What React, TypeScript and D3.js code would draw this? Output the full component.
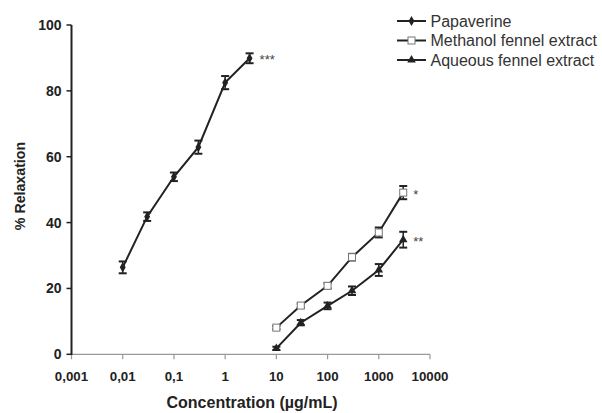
import { useEffect, useRef } from "react";
import * as d3 from "d3";

// concentrations (µg/mL)
const papaverineX = [0.01, 0.03, 0.1, 0.3, 1, 3];
const papaverineY = [26.4, 41.8, 53.9, 62.9, 82.5, 89.9];
const papaverineErr = [1.8, 1.3, 1.3, 2, 2, 1.5];

const extractX = [10, 30, 100, 300, 1000, 3000];
const methanolY = [8.1, 14.8, 20.8, 29.5, 37, 49.1];
const methanolErr = [0.5, 0.6, 0.8, 1, 1.5, 2];
const aqueousY = [1.8, 9.6, 14.7, 19.3, 25.6, 34.8];
const aqueousErr = [0.5, 0.8, 1, 1.3, 1.8, 2.4];

const xTicks = [0.001, 0.01, 0.1, 1, 10, 100, 1000, 10000];
const xTickLabels = ["0,001", "0,01", "0,1", "1", "10", "100", "1000", "10000"];
const yTicks = [0, 20, 40, 60, 80, 100];

const legendLabels = ["Papaverine", "Methanol fennel extract", "Aqueous fennel extract"];
const signif = ["***", "*", "**"];

export default function App() {
  const svgRef = useRef<SVGSVGElement>(null);

  useEffect(() => {
    if (!svgRef.current) return;
    const svg = d3.select(svgRef.current);
    svg.selectAll("*").remove();

    const x = d3.scaleLog().domain([0.001, 10000]).range([71.5, 430]);
    const y = d3.scaleLinear().domain([0, 100]).range([354.3, 25]);
    const dark = "#222";
    const font = "'Liberation Sans', Arial, sans-serif";

    // x axis (gray)
    const xa = svg.append("g").attr("transform", `translate(0,${y(0)})`);
    xa.append("line").attr("x1", x(0.001)).attr("x2", x(10000)).attr("stroke", "#999").attr("stroke-width", 1.2);
    xa.selectAll("line.t").data(xTicks).join("line").attr("class", "t")
      .attr("x1", (d) => x(d)).attr("x2", (d) => x(d)).attr("y1", 0).attr("y2", 5)
      .attr("stroke", "#999").attr("stroke-width", 1.2);
    xa.selectAll("text").data(xTicks).join("text")
      .attr("x", (d) => x(d)).attr("y", 26.5).attr("text-anchor", "middle")
      .attr("font-family", font).attr("font-weight", "bold").attr("font-size", 13.3).attr("fill", dark)
      .text((_, i) => xTickLabels[i]);

    // y axis
    const ya = svg.append("g").attr("transform", `translate(${x(0.001)},0)`);
    ya.append("line").attr("y1", y(0) + 0.6).attr("y2", y(100)).attr("stroke", dark).attr("stroke-width", 2);
    ya.selectAll("line.t").data(yTicks).join("line").attr("class", "t")
      .attr("x1", -5).attr("x2", 0).attr("y1", (d) => y(d)).attr("y2", (d) => y(d))
      .attr("stroke", dark).attr("stroke-width", 1.5);
    ya.selectAll("text").data(yTicks).join("text")
      .attr("x", -10).attr("y", (d) => y(d) + 5).attr("text-anchor", "end")
      .attr("font-family", font).attr("font-weight", "bold").attr("font-size", 14).attr("fill", dark)
      .text((d) => String(d));

    // axis titles
    svg.append("text").attr("transform", `translate(25,186) rotate(-90)`).attr("text-anchor", "middle")
      .attr("font-family", font).attr("font-weight", "bold").attr("font-size", 14.2).attr("fill", dark)
      .text("% Relaxation");
    svg.append("text").attr("x", 252).attr("y", 408).attr("text-anchor", "middle")
      .attr("font-family", font).attr("font-weight", "bold").attr("font-size", 16).attr("fill", dark)
      .text("Concentration (µg/mL)");

    const series = [
      { xs: papaverineX, ys: papaverineY, err: papaverineErr, marker: "diamond" },
      { xs: extractX, ys: methanolY, err: methanolErr, marker: "square" },
      { xs: extractX, ys: aqueousY, err: aqueousErr, marker: "triangle" },
    ];

    const line = d3.line<[number, number]>().x((d) => x(d[0])).y((d) => y(d[1]));

    const drawMarker = (g: any, kind: string, cx: number, cy: number) => {
      if (kind === "diamond") {
        g.append("path").attr("d", d3.symbol(d3.symbolDiamond, 30)()).attr("transform", `translate(${cx},${cy})`).attr("fill", dark);
      } else if (kind === "square") {
        g.append("rect").attr("x", cx - 3.5).attr("y", cy - 3.5).attr("width", 7).attr("height", 7)
          .attr("fill", "#fff").attr("stroke", "#777").attr("stroke-width", 1);
      } else {
        g.append("path").attr("d", d3.symbol(d3.symbolTriangle, 32)()).attr("transform", `translate(${cx},${cy})`).attr("fill", dark);
      }
    };

    series.forEach((s) => {
      const pts = s.xs.map((v, i) => [v, s.ys[i]] as [number, number]);
      const g = svg.append("g");
      g.append("path").datum(pts).attr("d", line).attr("fill", "none").attr("stroke", dark).attr("stroke-width", 2);
      pts.forEach((p, i) => {
        const cx = x(p[0]);
        const top = y(p[1] + s.err[i]);
        const bot = y(p[1] - s.err[i]);
        g.append("line").attr("x1", cx).attr("x2", cx).attr("y1", top).attr("y2", bot).attr("stroke", dark).attr("stroke-width", 1.5);
        g.append("line").attr("x1", cx - 4).attr("x2", cx + 4).attr("y1", top).attr("y2", top).attr("stroke", dark).attr("stroke-width", 2);
        g.append("line").attr("x1", cx - 4).attr("x2", cx + 4).attr("y1", bot).attr("y2", bot).attr("stroke", dark).attr("stroke-width", 2);
        drawMarker(g, s.marker, cx, y(p[1]));
      });
    });

    // significance marks
    series.forEach((s, k) => {
      const last = s.xs.length - 1;
      svg.append("text").attr("x", x(s.xs[last]) + 10).attr("y", y(s.ys[last]) + 6)
        .attr("font-family", font).attr("font-size", 13).attr("fill", "#444")
        .text(signif[k]);
    });

    // legend
    const lg = svg.append("g").attr("transform", "translate(397,21)");
    series.forEach((s, i) => {
      const row = lg.append("g").attr("transform", `translate(0,${i * 19.5})`);
      row.append("line").attr("x1", 0).attr("x2", 29).attr("stroke", dark).attr("stroke-width", 2);
      drawMarker(row, s.marker, 14.5, 0);
      row.append("text").attr("x", 33.5).attr("y", 5.5).attr("font-family", font).attr("font-size", 16).attr("fill", "#333")
        .text(legendLabels[i]);
    });
  }, []);

  return (
    <svg ref={svgRef} width={602} height={413}
      style={{ position: "fixed", left: 0, top: 0, background: "#fff" }} />
  );
}
